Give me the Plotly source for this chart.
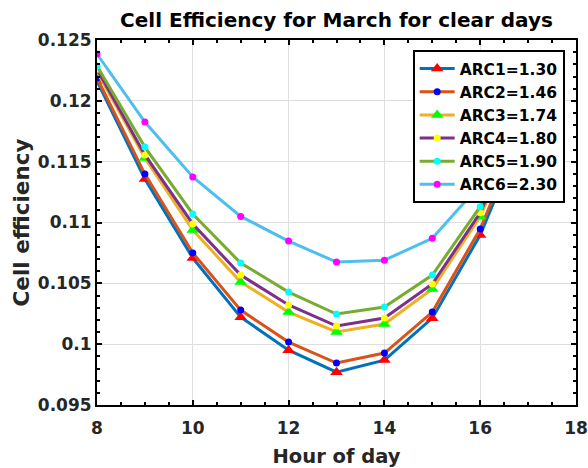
import plotly.graph_objects as go

hours = [8, 9, 10, 11, 12, 13, 14, 15, 16, 17]

arc1 = [0.12163, 0.11357, 0.10708, 0.10222, 0.09951, 0.09770, 0.09869, 0.10214, 0.10897, 0.1185]
arc2 = [0.12188, 0.11398, 0.10750, 0.10280, 0.10017, 0.09845, 0.09927, 0.10264, 0.10946, 0.1190]
arc3 = [0.12240, 0.11530, 0.10938, 0.10511, 0.10264, 0.10100, 0.10166, 0.10453, 0.11050, 0.1197]
arc4 = [0.12260, 0.11555, 0.10988, 0.10568, 0.10322, 0.10149, 0.10215, 0.10494, 0.11080, 0.1200]
arc5 = [0.12286, 0.11620, 0.11070, 0.10667, 0.10428, 0.10248, 0.10305, 0.10568, 0.11130, 0.1205]
arc6 = [0.12385, 0.11826, 0.11374, 0.11050, 0.10847, 0.10675, 0.10690, 0.10870, 0.11310, 0.1215]

series_names = ["ARC1=1.30", "ARC2=1.46", "ARC3=1.74", "ARC4=1.80", "ARC5=1.90", "ARC6=2.30"]
series_values = [arc1, arc2, arc3, arc4, arc5, arc6]
line_colors = ["#0072BD", "#D95319", "#EDB120", "#7E2F8E", "#77AC30", "#4DBEEE"]
marker_colors = ["#FF0000", "#0000FF", "#00FF00", "#FFFF00", "#00FFFF", "#FF00FF"]
marker_symbols = ["triangle-up", "circle", "triangle-up", "circle", "circle", "circle"]
marker_sizes = [11, 7, 11, 7, 7, 7]

x_ticks = [8, 10, 12, 14, 16, 18]
x_tick_labels = ["8", "10", "12", "14", "16", "18"]
y_ticks = [0.095, 0.1, 0.105, 0.11, 0.115, 0.12, 0.125]
y_tick_labels = ["0.095", "0.1", "0.105", "0.11", "0.115", "0.12", "0.125"]

FONT = "DejaVu Sans, sans-serif"
TXT = "#262626"

fig = go.Figure()
for name, vals, lc, mc, ms, msz in zip(series_names, series_values, line_colors,
                                        marker_colors, marker_symbols, marker_sizes):
    fig.add_trace(go.Scatter(
        x=hours, y=vals, name=name, mode="lines+markers",
        line=dict(color=lc, width=3),
        marker=dict(color=mc, symbol=ms, size=msz, line=dict(width=0)),
    ))

axis_common = dict(
    showline=True, linecolor="black", linewidth=2, mirror="allticks",
    ticks="inside", ticklen=5, tickwidth=1.5, tickcolor="black",
    showgrid=True, gridcolor="#dedede", gridwidth=1,
    zeroline=False, ticklabeloverflow="allow", automargin=False,
    tickfont=dict(family=FONT, size=17, color=TXT, weight="bold"),
)

fig.update_layout(
    width=588, height=468,
    margin=dict(l=97, r=12, t=40, b=63),
    paper_bgcolor="white", plot_bgcolor="white",
    title=dict(text="Cell Efficiency for March for clear days",
               x=(97 + 576) / 2 / 588, xanchor="center", y=1 - 20 / 468, yanchor="middle",
               font=dict(family=FONT, size=20, color="black", weight="bold")),
    xaxis=dict(range=[8, 18], tickvals=x_ticks, ticktext=x_tick_labels,
               ticklabelstandoff=7,
               minor=dict(ticks="inside", dtick=0.5, ticklen=3, tickcolor="black", showgrid=False),
               title=dict(text="Hour of day", standoff=13,
                          font=dict(family=FONT, size=19.5, color=TXT, weight="bold")),
               **axis_common),
    yaxis=dict(range=[0.095, 0.125], tickvals=y_ticks, ticktext=y_tick_labels,
               minor=dict(ticks="inside", dtick=0.001, ticklen=3, tickcolor="black", showgrid=False),
               title=dict(text="Cell efficiency", standoff=2,
                          font=dict(family=FONT, size=21.5, color=TXT, weight="bold")),
               **axis_common),
    legend=dict(x=0.659, y=0.9726, xanchor="left", yanchor="top",
                bgcolor="white", bordercolor="black", borderwidth=2, itemwidth=35,
                font=dict(family=FONT, size=15.5, color="black", weight="bold")),
    showlegend=True,
)

fig.write_html("out.html")
